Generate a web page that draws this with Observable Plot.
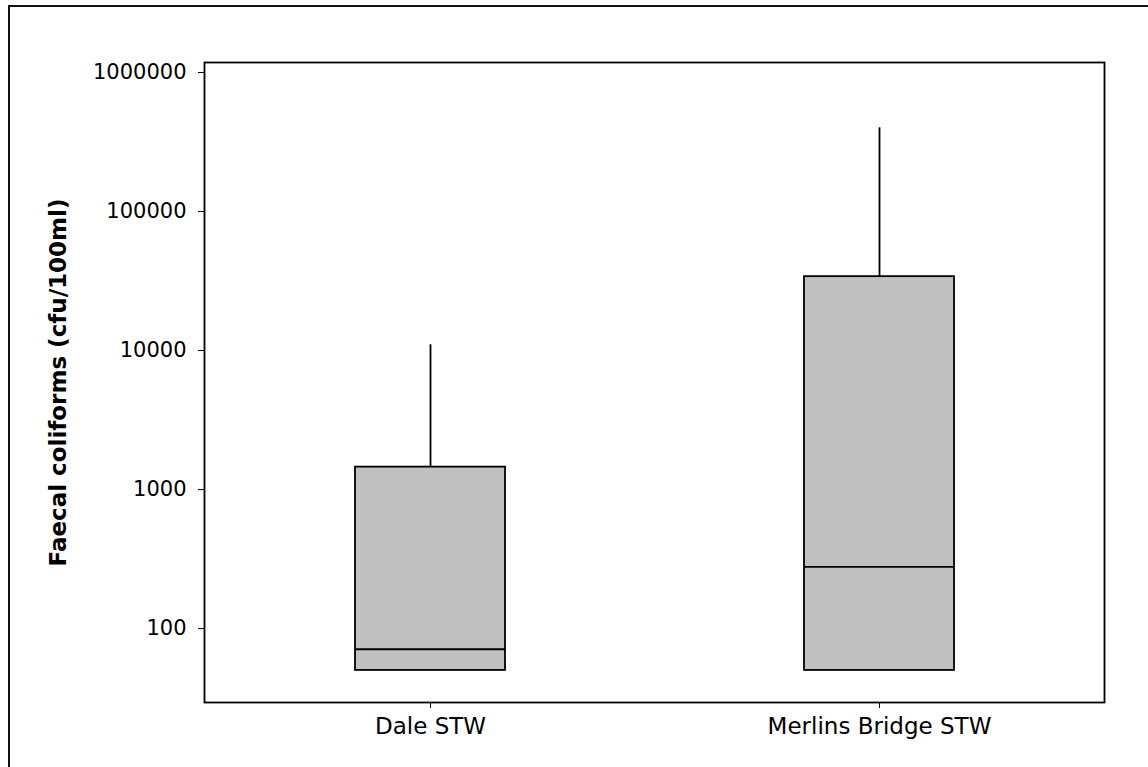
<!DOCTYPE html>
<html><head><meta charset="utf-8">
<script src="https://cdn.jsdelivr.net/npm/d3@7"></script>
<script src="https://cdn.jsdelivr.net/npm/@observablehq/plot@0.6"></script>
<style>
html,body{margin:0;padding:0;background:#fff;overflow:hidden}
#wrap{position:relative;width:1148px;height:767px;overflow:hidden}
#wrap svg{position:absolute;left:0;top:0}
#border{position:absolute;left:8px;top:5px;width:1300px;height:900px;border-left:2px solid #111;border-top:2px solid #111;box-sizing:border-box;pointer-events:none}
</style></head><body><div id="wrap"></div>
<script>
const sites = ["Dale STW", "Merlins Bridge STW"];
const q1 = [50, 50];
const median = [71, 278];
const q3 = [1450, 34000];
const whiskerHigh = [11000, 400000];
const yTicks = [100, 1000, 10000, 100000, 1000000];
const yDomain = [29.4, 1180000];
const yTitle = "Faecal coliforms (cfu/100ml)";

const rows = sites.map((s, i) => ({site: s, q1: q1[i], median: median[i], q3: q3[i], hi: whiskerHigh[i]}));

const font = "'DejaVu Sans', sans-serif";
const chart = Plot.plot({
  width: 1148,
  height: 767,
  marginTop: 62,
  marginBottom: 65,
  marginLeft: 204,
  marginRight: 44,
  style: {fontFamily: font, fontSize: "21px", color: "#000", background: "transparent", overflow: "visible"},
  x: {domain: sites, paddingInner: 0.666, paddingOuter: 0.335, align: 0.5},
  y: {type: "log", domain: yDomain},
  marks: [
    Plot.frame({stroke: "#000", strokeWidth: 1.8}),
    Plot.ruleX(rows, {x: "site", y1: "q3", y2: "hi", stroke: "#000", strokeWidth: 1.8}),
    Plot.barY(rows, {x: "site", y1: "q1", y2: "q3", fill: "#c0c0c0", stroke: "#000", strokeWidth: 1.8, inset: 0}),
    Plot.tickY(rows, {x: "site", y: "median", stroke: "#000", strokeWidth: 1.8}),
    Plot.axisY({ticks: yTicks, tickFormat: d => String(d), tickSize: 6, tickPadding: 12, label: null, fontSize: 21}),
    Plot.axisY({ticks: [], label: yTitle, labelArrow: "none", labelAnchor: "center", labelOffset: 155, fontWeight: "bold", fontSize: 23}),
    Plot.axisX({tickSize: 6, tickPadding: 9, label: null, fontSize: 23})
  ]
});
const wrap = document.getElementById("wrap");
wrap.appendChild(chart);
const b = document.createElement("div");
b.id = "border";
wrap.appendChild(b);
</script>
</body></html>
